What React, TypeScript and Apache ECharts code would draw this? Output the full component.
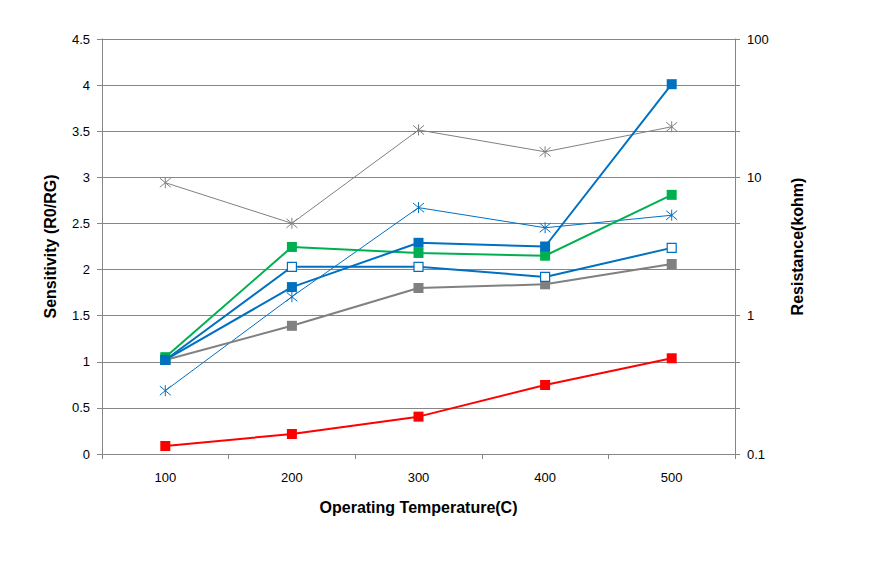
import React, { useEffect, useRef } from "react";
import * as echarts from "echarts";

const categories = ["100", "200", "300", "400", "500"];
const blueFilled = [1.02, 1.81, 2.29, 2.25, 4.01];
const greenFilled = [1.05, 2.245, 2.18, 2.15, 2.81];
const blueOpen = [1.02, 2.03, 2.03, 1.92, 2.235];
const grayFilled = [1.02, 1.39, 1.8, 1.84, 2.06];
const redFilled = [0.087, 0.217, 0.405, 0.748, 1.038];
// resistance (kohm), right log axis
const grayStarR = [9.15, 4.65, 22.0, 15.3, 23.2];
const blueStarR = [0.287, 1.37, 6.04, 4.32, 5.32];

const BLUE = "#0070C0";
const GREEN = "#00B050";
const GRAY = "#808080";
const RED = "#FF0000";
const AXIS = "#868686";
const FONT = "Liberation Sans";

const STAR = "path://M0,0L10,10M10,0L0,10M5,-1L5,11";

// right axis in units of third-decades: u = 3*log10(R)
const toU = (r: number) => 3 * Math.log10(r);

export default function App() {
  const ref = useRef<HTMLDivElement>(null);
  useEffect(() => {
    if (!ref.current) return;
    const chart = echarts.init(ref.current, undefined, { renderer: "svg" });
    const sq = (data: number[], color: string, size = 10) => ({
      type: "line",
      data,
      yAxisIndex: 0,
      symbol: "rect",
      symbolSize: size,
      lineStyle: { color, width: 2 },
      itemStyle: { color },
      z: 3,
    });
    const star = (data: number[], color: string) => ({
      type: "line",
      data: data.map(toU),
      yAxisIndex: 1,
      symbol: STAR,
      symbolSize: 11,
      lineStyle: { color, width: 1 },
      itemStyle: { color: "rgba(0,0,0,0)", borderColor: color, borderWidth: 1 },
      z: 2,
    });
    const nameStyle = { color: "#000", fontSize: 16, fontWeight: "bold", fontFamily: FONT };
    chart.setOption({
      animation: false,
      backgroundColor: "#fff",
      textStyle: { fontFamily: FONT },
      grid: { left: 102, right: 136, top: 39, bottom: 115 },
      xAxis: {
        type: "category",
        data: categories,
        boundaryGap: true,
        axisLine: { lineStyle: { color: AXIS, width: 1 } },
        axisTick: { show: true, length: 5, lineStyle: { color: AXIS } },
        axisLabel: { color: "#000", fontSize: 13, margin: 17, fontFamily: FONT },
        name: "Operating Temperature(C)",
        nameLocation: "middle",
        nameGap: 45,
        nameTextStyle: nameStyle,
      },
      yAxis: [
        {
          type: "value",
          min: 0,
          max: 4.5,
          interval: 0.5,
          axisLine: { show: true, lineStyle: { color: AXIS } },
          axisTick: { show: true, length: 5, lineStyle: { color: AXIS } },
          splitLine: { show: true, lineStyle: { color: AXIS, width: 1 } },
          axisLabel: { color: "#000", fontSize: 13, margin: 12, fontFamily: FONT },
          name: "Sensitivity (R0/RG)",
          nameLocation: "middle",
          nameGap: 44,
          nameTextStyle: nameStyle,
        },
        {
          type: "value",
          min: -3,
          max: 6,
          interval: 1,
          position: "right",
          axisLine: { show: true, lineStyle: { color: AXIS } },
          axisTick: { show: true, length: 5, lineStyle: { color: AXIS } },
          splitLine: { show: false },
          axisLabel: {
            color: "#000",
            fontSize: 13,
            margin: 12,
            fontFamily: FONT,
            formatter: (v: number) => {
              const r = Math.round(v);
              if (r % 3 !== 0) return "";
              const e = r / 3;
              return e < 0 ? String(Math.pow(10, e).toFixed(-e)) : String(Math.pow(10, e));
            },
          },
          name: "Resistance(kohm)",
          nameLocation: "middle",
          nameGap: 54,
          nameRotate: 90,
          nameTextStyle: nameStyle,
        },
      ],
      series: [
        star(grayStarR, GRAY),
        star(blueStarR, BLUE),
        sq(redFilled, RED),
        sq(grayFilled, GRAY),
        {
          type: "line",
          data: blueOpen,
          yAxisIndex: 0,
          symbol: "rect",
          symbolSize: 9,
          lineStyle: { color: BLUE, width: 2 },
          itemStyle: { color: "#fff", borderColor: BLUE, borderWidth: 1.2 },
          z: 3,
        },
        sq(greenFilled, GREEN),
        sq(blueFilled, BLUE),
      ],
    });
    return () => chart.dispose();
  }, []);
  return <div ref={ref} style={{ width: 871, height: 569, position: "absolute", left: 0, top: 0 }} />;
}
